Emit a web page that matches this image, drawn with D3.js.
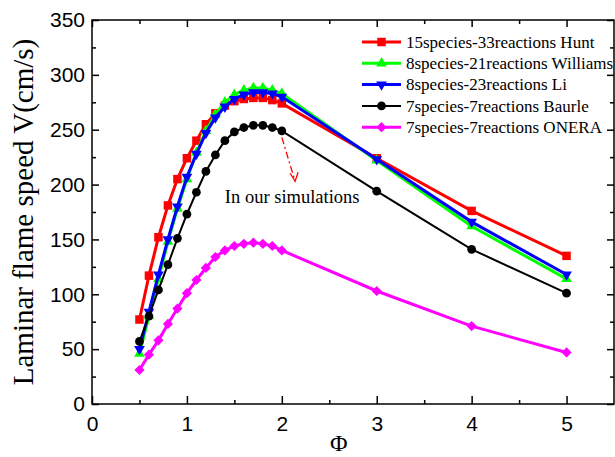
<!DOCTYPE html>
<html>
<head>
<meta charset="utf-8">
<script src="https://cdn.jsdelivr.net/npm/d3@7"></script>
<style>
  body { margin: 0; background: #fff; }
  .tick text { font-family: "Liberation Sans", Arial, sans-serif; font-size: 21px; fill: #000; }
  .axis path.domain { display: none; }
  .axis line { stroke: #000; stroke-width: 1.5px; }
</style>
</head>
<body>
<script>

// equivalence ratio
var phi = [0.5, 0.6, 0.7, 0.8, 0.9, 1.0, 1.1, 1.2, 1.3, 1.4, 1.5, 1.6, 1.7, 1.8, 1.9, 2.0, 3, 4, 5];

// laminar flame speed (cm/s) for each mechanism
var hunt     = [77, 117, 152, 181, 205, 224, 240, 255, 265, 272, 276, 278, 279, 279, 277, 274, 224, 176, 135];
var williams = [46, 80, 114, 148, 178, 205, 229, 249, 264, 275, 282, 286, 288, 288, 286, 283, 222, 162, 114];
var li       = [50, 84, 118, 150, 180, 207, 228, 247, 261, 271, 278, 282, 284, 284, 283, 280, 223, 166, 118];
var baurle   = [57, 80, 104, 127, 151, 173, 193, 212, 227, 240, 248, 252, 254, 254, 252, 249, 194, 141, 101];
var onera    = [31, 45, 58, 73, 87, 101, 113, 124, 134, 140, 144, 146, 147, 146, 144, 140, 103, 71, 47];

var seriesNames = ["15species-33reactions Hunt", "8species-21reactions Williams",
                   "8species-23reactions Li", "7species-7reactions Baurle", "7species-7reactions ONERA"];

var xTicks = [0, 1, 2, 3, 4, 5];
var yTicks = [0, 50, 100, 150, 200, 250, 300, 350];

var series = [
  {name: seriesNames[0], values: hunt,     color: "#ff0000", width: 3, symbol: d3.symbolSquare,   size: 72, rotate: 0},
  {name: seriesNames[1], values: williams, color: "#00ff00", width: 3, symbol: d3.symbolTriangle, size: 50, rotate: 0},
  {name: seriesNames[2], values: li,       color: "#0000ff", width: 3, symbol: d3.symbolTriangle, size: 50, rotate: 180},
  {name: seriesNames[3], values: baurle,   color: "#000000", width: 2, symbol: d3.symbolCircle,   size: 60, rotate: 0},
  {name: seriesNames[4], values: onera,    color: "#ff00ff", width: 3, symbol: d3.symbolSquare,   size: 52, rotate: 45}
];

var margin = {top: 20, right: 1, bottom: 53, left: 92},
    width = 615 - margin.left - margin.right,
    height = 457 - margin.top - margin.bottom;

var x = d3.scaleLinear().domain([0, 5.5]).range([0, width]);
var y = d3.scaleLinear().domain([0, 350]).range([height, 0]);

var svg = d3.select("body").append("svg")
    .attr("width", width + margin.left + margin.right)
    .attr("height", height + margin.top + margin.bottom)
  .append("g")
    .attr("transform", "translate(" + margin.left + "," + margin.top + ")");

// axes, ticks point inward on all four sides
var xMinor = [0.5, 1.5, 2.5, 3.5, 4.5];
var yMinor = [25, 75, 125, 175, 225, 275, 325];

svg.append("g").attr("class", "axis")
    .attr("transform", "translate(0," + height + ")")
    .call(d3.axisBottom(x).tickValues(xTicks).tickSize(-8).tickPadding(12).tickFormat(d3.format("d")));
svg.append("g").attr("class", "axis")
    .attr("transform", "translate(0," + height + ")")
    .call(d3.axisBottom(x).tickValues(xMinor).tickSize(-4).tickFormat(""));
svg.append("g").attr("class", "axis")
    .call(d3.axisTop(x).tickValues(xTicks).tickSize(-7).tickFormat(""));
svg.append("g").attr("class", "axis")
    .call(d3.axisTop(x).tickValues(xMinor).tickSize(-4).tickFormat(""));

svg.append("g").attr("class", "axis")
    .call(d3.axisLeft(y).tickValues(yTicks).tickSize(-7).tickPadding(7));
svg.append("g").attr("class", "axis")
    .call(d3.axisLeft(y).tickValues(yMinor).tickSize(-4).tickFormat(""));
svg.append("g").attr("class", "axis")
    .attr("transform", "translate(" + width + ",0)")
    .call(d3.axisRight(y).tickValues(yTicks).tickSize(-7).tickFormat(""));
svg.append("g").attr("class", "axis")
    .attr("transform", "translate(" + width + ",0)")
    .call(d3.axisRight(y).tickValues(yMinor).tickSize(-4).tickFormat(""));

svg.append("rect")
    .attr("width", width)
    .attr("height", height)
    .attr("fill", "none")
    .attr("stroke", "#000")
    .attr("stroke-width", 1.5);

// axis titles
svg.append("text")
    .attr("transform", "rotate(-90)")
    .attr("x", -height / 2)
    .attr("y", -59)
    .attr("text-anchor", "middle")
    .style("font-family", "'Liberation Serif', 'Times New Roman', serif")
    .style("font-size", "29px")
    .text("Laminar flame speed V(cm/s)");

svg.append("text")
    .attr("x", x(2.6))
    .attr("y", height + 47)
    .attr("text-anchor", "middle")
    .style("font-family", "'Liberation Serif', 'Times New Roman', serif")
    .style("font-size", "24px")
    .text("\u03A6");

// lines + markers
var line = d3.line()
    .x(function(d, i) { return x(phi[i]); })
    .y(function(d) { return y(d); });

series.forEach(function(s) {
  svg.append("path")
      .datum(s.values)
      .attr("fill", "none")
      .attr("stroke", s.color)
      .attr("stroke-width", s.width)
      .attr("d", line);

  svg.selectAll(null)
      .data(s.values)
    .enter().append("path")
      .attr("d", d3.symbol().type(s.symbol).size(s.size))
      .attr("fill", s.color)
      .attr("transform", function(d, i) {
        return "translate(" + x(phi[i]) + "," + y(d) + ") rotate(" + s.rotate + ")";
      });
});

// annotation
svg.append("line")
    .attr("x1", x(2.0)).attr("y1", y(243))
    .attr("x2", x(2.14)).attr("y2", y(203))
    .attr("stroke", "#ff0000")
    .attr("stroke-width", 1.3)
    .attr("stroke-dasharray", "7,3,2,3");
svg.append("path")
    .attr("d", "M" + (x(2.14) - 5) + "," + (y(203) - 8) + "L" + x(2.14) + "," + y(203) +
               "L" + (x(2.14) + 3) + "," + (y(203) - 9))
    .attr("fill", "none")
    .attr("stroke", "#ff0000")
    .attr("stroke-width", 1.3);

svg.append("text")
    .attr("x", x(1.4))
    .attr("y", y(183))
    .style("font-family", "'Liberation Serif', 'Times New Roman', serif")
    .style("font-size", "18.5px")
    .text("In our simulations");

// legend
var legend = svg.selectAll(".legend")
    .data(series)
  .enter().append("g")
    .attr("class", "legend")
    .attr("transform", function(d, i) { return "translate(270," + (22 + i * 21.3) + ")"; });

legend.append("line")
    .attr("x1", 0).attr("x2", 39)
    .attr("stroke", function(d) { return d.color; })
    .attr("stroke-width", function(d) { return d.width; });

legend.append("path")
    .attr("d", function(d) { return d3.symbol().type(d.symbol).size(d.size)(); })
    .attr("fill", function(d) { return d.color; })
    .attr("transform", function(d) { return "translate(19.5,0) rotate(" + d.rotate + ")"; });

legend.append("text")
    .attr("x", 44)
    .attr("dy", "0.33em")
    .style("font-family", "'Liberation Serif', 'Times New Roman', serif")
    .style("font-size", "17px")
    .text(function(d) { return d.name; });

</script>
</body>
</html>
